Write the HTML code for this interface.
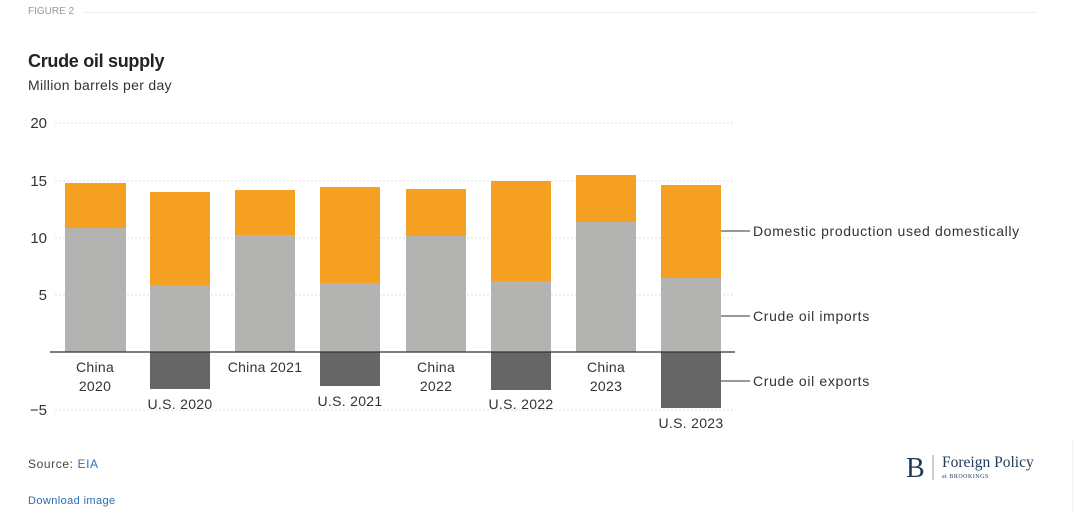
<!DOCTYPE html>
<html><head><meta charset="utf-8"><style>
html,body{margin:0;padding:0;background:#fff;}
body{width:1080px;height:513px;position:relative;overflow:hidden;font-family:"Liberation Sans",sans-serif;}
.t{position:absolute;white-space:nowrap;}
</style></head><body>
<div class="t" style="left:28px;top:6px;font-size:10px;color:#999;">FIGURE 2</div>
<div style="position:absolute;left:84px;top:12px;width:952px;height:1px;background:#eee;"></div>
<div class="t" style="left:28px;top:51px;font-size:18px;font-weight:bold;color:#222;letter-spacing:-0.3px;">Crude oil supply</div>
<div class="t" style="left:28px;top:77px;font-size:14px;color:#333;letter-spacing:0.3px;">Million barrels per day</div>
<svg style="position:absolute;left:0;top:0" width="1080" height="513">
<g font-family="Liberation Sans, sans-serif" font-size="15" fill="#333">
<text x="47" y="128" text-anchor="end">20</text>
<text x="47" y="186" text-anchor="end">15</text>
<text x="47" y="243" text-anchor="end">10</text>
<text x="47" y="300" text-anchor="end">5</text>
<text x="47" y="415" text-anchor="end">−5</text>
</g>
<g stroke="#ddd" stroke-dasharray="2,2">
<line x1="55" y1="123" x2="735" y2="123"/><line x1="55" y1="181" x2="735" y2="181"/>
<line x1="55" y1="238" x2="735" y2="238"/><line x1="55" y1="295" x2="735" y2="295"/>
<line x1="55" y1="410" x2="735" y2="410"/>
</g>
<g>
<rect x="65" y="183" width="61" height="45" fill="#F6A021"/><rect x="65" y="228" width="61" height="124" fill="#B3B3B1"/>
<rect x="150" y="192" width="60" height="93" fill="#F6A021"/><rect x="150" y="285" width="60" height="67" fill="#B3B3B1"/><rect x="150" y="352" width="60" height="37" fill="#666"/>
<rect x="235" y="190" width="60" height="45" fill="#F6A021"/><rect x="235" y="235" width="60" height="117" fill="#B3B3B1"/>
<rect x="320" y="187" width="60" height="96" fill="#F6A021"/><rect x="320" y="283" width="60" height="69" fill="#B3B3B1"/><rect x="320" y="352" width="60" height="34" fill="#666"/>
<rect x="406" y="189" width="60" height="47" fill="#F6A021"/><rect x="406" y="236" width="60" height="116" fill="#B3B3B1"/>
<rect x="491" y="181" width="60" height="100" fill="#F6A021"/><rect x="491" y="281" width="60" height="71" fill="#B3B3B1"/><rect x="491" y="352" width="60" height="38" fill="#666"/>
<rect x="576" y="175" width="60" height="47" fill="#F6A021"/><rect x="576" y="222" width="60" height="130" fill="#B3B3B1"/>
<rect x="661" y="185" width="60" height="93" fill="#F6A021"/><rect x="661" y="278" width="60" height="74" fill="#B3B3B1"/><rect x="661" y="352" width="60" height="56" fill="#666"/>
</g>
<line x1="50" y1="352" x2="735" y2="352" stroke="#333" stroke-width="1.2"/>
<g stroke="#333"><line x1="721" y1="231" x2="750" y2="231"/><line x1="721" y1="316" x2="750" y2="316"/><line x1="721" y1="381" x2="750" y2="381"/></g>
<g font-family="Liberation Sans, sans-serif" font-size="14" fill="#333" text-anchor="middle" letter-spacing="0.3">
<text x="95" y="372">China</text><text x="95" y="391">2020</text>
<text x="180" y="409">U.S. 2020</text>
<text x="265" y="372">China 2021</text>
<text x="350" y="406">U.S. 2021</text>
<text x="436" y="372">China</text><text x="436" y="391">2022</text>
<text x="521" y="409">U.S. 2022</text>
<text x="606" y="372">China</text><text x="606" y="391">2023</text>
<text x="691" y="428">U.S. 2023</text>
</g>
<g font-family="Liberation Sans, sans-serif" font-size="14" fill="#333" letter-spacing="0.65">
<text x="753" y="236">Domestic production used domestically</text>
<text x="753" y="321">Crude oil imports</text>
<text x="753" y="386">Crude oil exports</text>
</g>
<text x="28" y="468" font-family="Liberation Sans, sans-serif" font-size="12" fill="#444" letter-spacing="0.6">Source: <tspan fill="#2a6fb0">EIA</tspan></text>
<text x="28" y="504" font-family="Liberation Sans, sans-serif" font-size="11" fill="#2a6fb0" letter-spacing="0.4">Download image</text>
<text x="906" y="477" font-family="Liberation Serif, serif" font-size="28" fill="#1f3a5a">B</text>
<line x1="933" y1="455" x2="933" y2="480" stroke="#999"/>
<text x="942" y="467" font-family="Liberation Serif, serif" font-size="15.5" fill="#1f3a5a">Foreign Policy</text>
<text x="942" y="478" font-family="Liberation Serif, serif" font-size="6" fill="#1f3a5a" letter-spacing="0.5">at BROOKINGS</text>
<line x1="1073" y1="440" x2="1073" y2="513" stroke="#eee"/>
</svg>
</body></html>
